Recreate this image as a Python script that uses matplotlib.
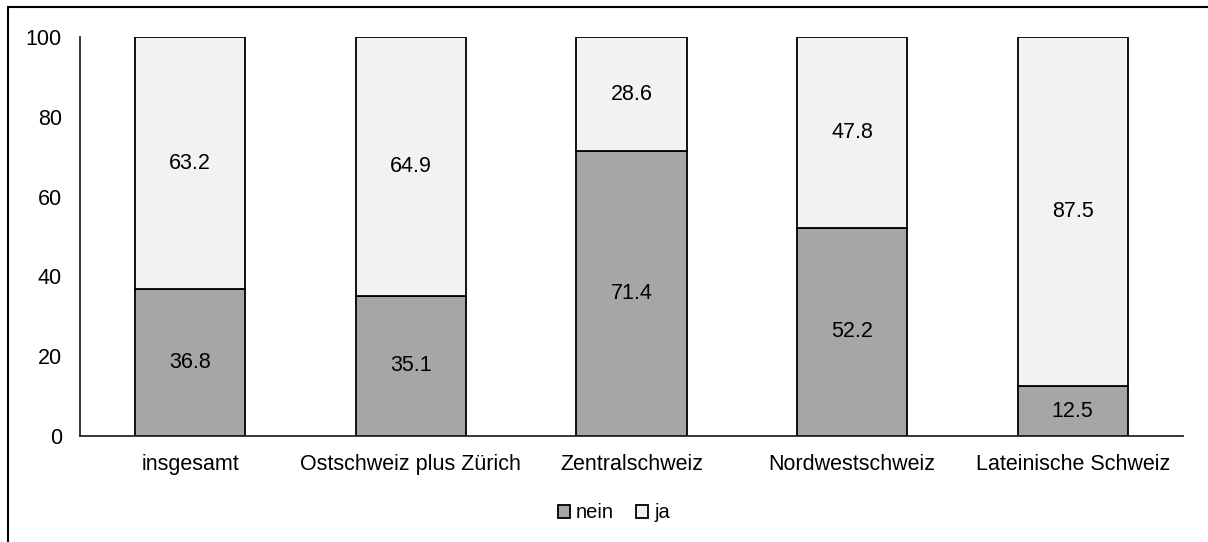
import matplotlib
matplotlib.use("Agg")
import matplotlib.pyplot as plt
from matplotlib.patches import Rectangle
import numpy as np

plt.rcParams['font.family'] = ['Liberation Sans', 'DejaVu Sans']

categories = ["insgesamt", "Ostschweiz plus Zürich", "Zentralschweiz", "Nordwestschweiz", "Lateinische Schweiz"]
nein = [36.8, 35.1, 71.4, 52.2, 12.5]
ja = [63.2, 64.9, 28.6, 47.8, 87.5]
yticks = [0, 20, 40, 60, 80, 100]

fs = 15.5

fig = plt.figure(figsize=(12.08, 5.42), dpi=100)
ax = fig.add_axes([80/1208, 106/542, (1183-80)/1208, (436-37)/542])

x = np.arange(len(categories))
b1 = ax.bar(x, nein, width=0.5, color="#a6a6a6", edgecolor="black", linewidth=1.3, label="nein")
b2 = ax.bar(x, ja, width=0.5, bottom=nein, color="#f2f2f2", edgecolor="black", linewidth=1.3, label="ja")

for xi, n, j in zip(x, nein, ja):
    ax.text(xi, n/2, f"{n:.1f}", ha="center", va="center", fontsize=fs, color="black")
    ax.text(xi, n + j/2, f"{j:.1f}", ha="center", va="center", fontsize=fs, color="black")

ax.set_xlim(-0.5, len(categories) - 0.5)
ax.set_ylim(0, 100)
ax.set_yticks(yticks)
ax.set_xticks(x)
ax.set_xticklabels(categories)
ax.tick_params(axis="both", length=0, labelsize=fs, colors="black")
ax.tick_params(axis="y", pad=13)
ax.tick_params(axis="x", pad=13)
for s in ["top", "right"]:
    ax.spines[s].set_visible(False)
ax.spines["left"].set_color("#262626")
ax.spines["bottom"].set_color("#262626")
ax.spines["left"].set_linewidth(1.3)
ax.spines["bottom"].set_linewidth(1.3)

leg = fig.legend(handles=[b1, b2], labels=["nein", "ja"], loc="center", bbox_to_anchor=(614/1208, 1 - 513/542),
                 ncol=2, frameon=False, fontsize=14.5, handlelength=0.6, handleheight=0.6,
                 handletextpad=0.3, columnspacing=1.1)

fig.patches.append(Rectangle((8/1208, -0.1), 1.2, (542 - 7)/542 + 0.1, transform=fig.transFigure,
                             fill=False, edgecolor="black", linewidth=1.5, zorder=10))

fig.savefig("out.png", dpi=100)
